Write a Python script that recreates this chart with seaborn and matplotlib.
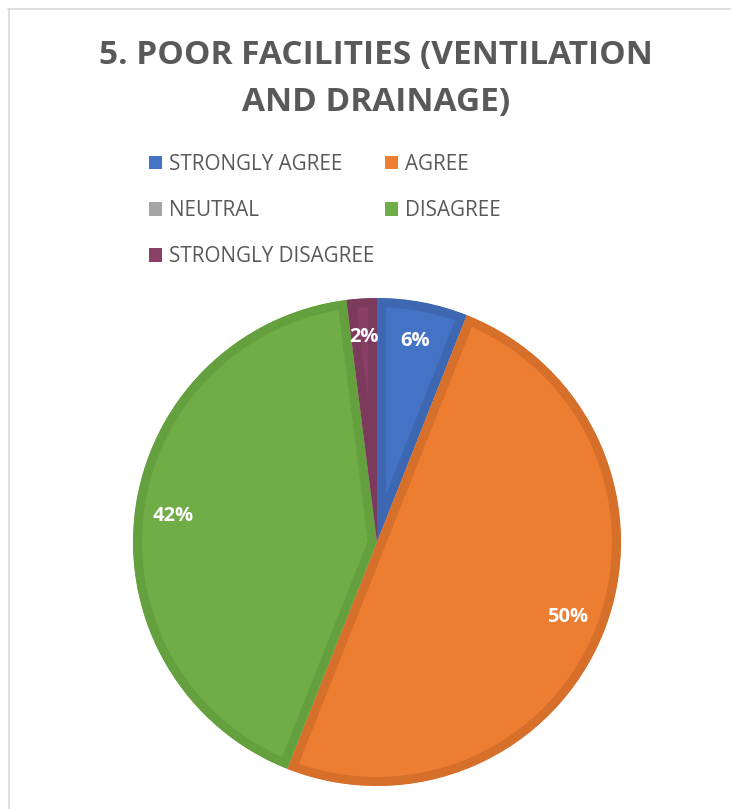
import matplotlib
matplotlib.use("Agg")
import matplotlib.pyplot as plt
from matplotlib.lines import Line2D
from matplotlib.patches import Patch
import seaborn as sns

sns.set_theme(style="white")
plt.rcParams["font.family"] = ["Open Sans", "DejaVu Sans"]

title = "5. POOR FACILITIES (VENTILATION\nAND DRAINAGE)"
categories = ["STRONGLY AGREE", "AGREE", "NEUTRAL", "DISAGREE", "STRONGLY DISAGREE"]
shares = [6, 50, 0, 42, 2]
fills = ["#4472C4", "#ED7D31", "#A5A5A5", "#70AD47", "#8A4066"]
edges = ["#3E67B1", "#D66F2A", "#959595", "#64A03E", "#7C3A5C"]

text_grey = "#595959"

fig = plt.figure(figsize=(7.31, 8.09), dpi=100)

# chart area outline (top and left edges visible)
fig.add_artist(Line2D([8 / 731, 1.0], [1 - 9 / 809, 1 - 9 / 809],
                      transform=fig.transFigure, color="#D9D9D9", lw=1.2))
fig.add_artist(Line2D([9 / 731, 9 / 731], [0.0, 1 - 9 / 809],
                      transform=fig.transFigure, color="#D9D9D9", lw=1.2))

fig.text(376 / 731, 1 - 79 / 809, title, ha="center", va="center",
         fontsize=24, fontweight="bold", color=text_grey, linespacing=1.58)

# pie axes: centre (377, 542), radius 244 px
R = 244
cx, cy = 377, 542
ax = fig.add_axes([(cx - R) / 731, 1 - (cy + R) / 809, 2 * R / 731, 2 * R / 809])

wedges, _, autotexts = ax.pie(
    shares,
    colors=fills,
    startangle=90,
    counterclock=False,
    autopct=lambda p: f"{p:.0f}%" if p > 0.5 else "",
    pctdistance=0.84,
    radius=1.0,
    textprops=dict(color="white", fontsize=14.5, fontweight="bold"),
)
ax.set_xlim(-1, 1)
ax.set_ylim(-1, 1)
ax.set_aspect("auto")
ax.axis("off")
# darker inner rim on every slice: a wide stroke clipped to the slice itself
for w, ec in zip(wedges, edges):
    w.set_edgecolor(ec)
    w.set_linewidth(13)
    w.set_clip_on(True)
    w.set_clip_path(w)

# row-major legend order: two columns, three rows
order = [0, 2, 4, 1, 3]
handles = [Patch(facecolor=fills[i], edgecolor="none") for i in order]
labels = [categories[i] for i in order]
leg = fig.legend(handles, labels, loc="upper left",
                 bbox_to_anchor=(149 / 731, 1 - 154 / 809), ncol=2,
                 frameon=False, fontsize=14.9, handlelength=0.63, handleheight=0.63,
                 handletextpad=0.35, columnspacing=0.5, labelspacing=1.22,
                 borderaxespad=0, borderpad=0)
for t in leg.get_texts():
    t.set_color(text_grey)

fig.savefig("out.png", dpi=100, facecolor="white")
